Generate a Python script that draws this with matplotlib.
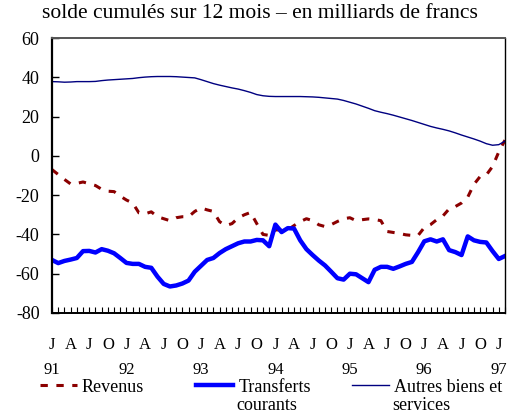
import matplotlib.pyplot as plt

plt.rcParams['font.family'] = ['Liberation Serif', 'DejaVu Serif']
plt.rcParams['axes.unicode_minus'] = False

# monthly data, Jan 1991 -> Feb 1997 (billions of francs, 12-month cumulated balance)
revenus = [-7, -9.5, -12, -14.3, -14, -13.3, -14.2, -15.1, -17, -18, -18.2, -20.5,
           -22.5, -24, -29, -29.5, -28.5, -31, -32, -33, -31.5, -31, -31, -28.3,
           -26.5, -27.5, -28.3, -33.5, -35.5, -34.5, -31.6, -30, -28.8, -34.5, -40, -40.5,
           -37.7, -37.7, -37.7, -35.5, -33.5, -32, -33, -35.1, -36, -35, -33.4, -32,
           -31.5, -33, -32.5, -32.1, -32.4, -33, -38.5, -39, -39.5, -40.2, -40.5, -40.5,
           -36.5, -35, -32.5, -30.6, -27, -25.8, -24, -21, -14.5, -10.5, -9.7, -5.4,
           2, 8]
transferts = [-53, -54.6, -53.5, -52.8, -52, -48.5, -48.4, -49.2, -47.5, -48.3, -49.6, -52,
              -54.5, -55, -55, -56.5, -57, -61.5, -65.2, -66.5, -66, -65, -63.5, -59,
              -56, -53, -52, -49.5, -47.5, -46, -44.5, -43.6, -43.6, -42.8, -43, -46,
              -35, -38.8, -36.8, -37, -43, -47.5, -50.5, -53.3, -55.8, -59, -62.3, -63,
              -60, -60.3, -62.3, -64.3, -58, -56.5, -56.5, -57.5, -56.3, -55, -54, -49,
              -43.5, -42.5, -43.6, -42.5, -48, -49, -50.5, -41, -43, -43.8, -44.1, -48.5,
              -52.5, -51]
autres = [37.8, 37.7, 37.5, 37.6, 37.8, 37.8, 37.8, 37.9, 38.3, 38.6, 38.8, 39.0,
          39.2, 39.4, 39.8, 40.1, 40.3, 40.4, 40.4, 40.4, 40.3, 40.1, 39.9, 39.7,
          38.8, 37.8, 36.8, 36.0, 35.3, 34.6, 34.0, 33.2, 32.3, 31.2, 30.6, 30.3,
          30.2, 30.2, 30.2, 30.2, 30.2, 30.1, 30.0, 29.8, 29.5, 29.2, 28.9, 28.2,
          27.3, 26.4, 25.3, 24.2, 23.0, 22.2, 21.5, 20.7, 19.8, 18.9, 18.0, 17.0,
          16.0, 15.0, 14.2, 13.5, 12.7, 11.7, 10.6, 9.6, 8.6, 7.5, 6.2, 5.4,
          5.7, 7.5]
months = list(range(len(autres)))
quarter_labels = ["J", "A", "J", "O"] * 6 + ["J"]
years = ["91", "92", "93", "94", "95", "96", "97"]

fig = plt.figure(figsize=(5.07, 4.19), dpi=100)
ax = fig.add_axes([0.1026, 0.253, 0.8934, 0.6563])

l1, = ax.plot(months, revenus, color="#8b0000", lw=2.2, linestyle=(0, (2.4, 2.8)))
l2, = ax.plot(months, transferts, color="#0000ff", lw=3.2)
l3, = ax.plot(months, autres, color="#000080", lw=1.0)

ax.set_xlim(0, 73)
ax.set_ylim(-80, 60)
ax.set_yticks(range(-80, 61, 20))
ax.set_xticks(range(0, 73, 3))
ax.set_xticklabels(quarter_labels)
ax.set_xticks(range(0, 74), minor=True)
ax.tick_params(axis='y', direction='in', length=5, width=1, labelsize=13, pad=9)
ax.tick_params(axis='x', which='both', direction='in', length=4, width=0.8, labelsize=12, pad=17)
for i, yr in enumerate(years):
    ax.text(i * 12, -0.18, yr, transform=ax.get_xaxis_transform(),
            ha='center', va='top', fontsize=12)

for s in ['left', 'bottom', 'right']:
    ax.spines[s].set_color('black')
ax.spines['left'].set_linewidth(1.6)
ax.spines['bottom'].set_linewidth(1.4)
ax.spines['right'].set_linewidth(1.0)
ax.spines['top'].set_color('#555555')
ax.spines['top'].set_linewidth(1.4)

fig.text(0.513, 0.968, "solde cumulés sur 12 mois – en milliards de francs",
         ha='center', va='center', fontsize=15.5)

# legend: one entry per block, second lines written underneath
entries = [(l1, "Revenus", None, 0.078),
           (l2, "Transferts", "courants", 0.387),
           (l3, "Autres biens et", "services", 0.695)]
for handle, first, second, x0 in entries:
    lg = fig.legend([handle], [first], loc='center left', bbox_to_anchor=(x0, 0.076),
                    frameon=False, fontsize=13, handlelength=2.05, handletextpad=0.28,
                    borderaxespad=0, borderpad=0)
    if second:
        fig.text(x0 + 0.0785, 0.033, second, ha='left', va='center', fontsize=13)

plt.savefig("out.png")
